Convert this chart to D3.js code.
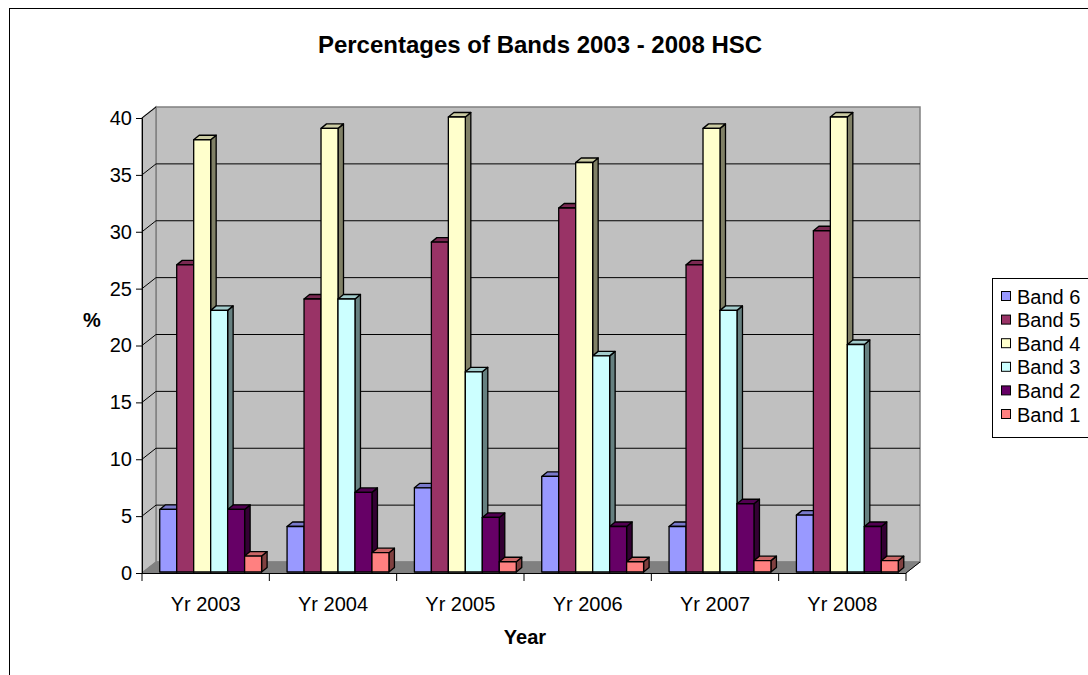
<!DOCTYPE html>
<html>
<head>
<meta charset="utf-8">
<script src="https://cdn.jsdelivr.net/npm/d3@7"></script>
<style>
  html, body { margin: 0; padding: 0; background: #fff; }
  svg { display: block; font-family: "Liberation Sans", Arial, sans-serif; }
</style>
</head>
<body>
<svg id="chart" width="1088" height="675"></svg>
<script>
// HSC band percentages per year
const categories = ["Yr 2003", "Yr 2004", "Yr 2005", "Yr 2006", "Yr 2007", "Yr 2008"];
const seriesNames = ["Band 6", "Band 5", "Band 4", "Band 3", "Band 2", "Band 1"];
const band6 = [5.5, 4, 7.4, 8.4, 4, 5];
const band5 = [27, 24, 29, 32, 27, 30];
const band4 = [38, 39, 40, 36, 39, 40];
const band3 = [23, 24, 17.6, 19, 23, 20];
const band2 = [5.5, 7, 4.8, 4, 6, 4];
const band1 = [1.4, 1.7, 0.9, 0.9, 1, 1];
const yTicks = [0, 5, 10, 15, 20, 25, 30, 35, 40];

const seriesValues = [band6, band5, band4, band3, band2, band1];
const fills = ["#9999FF", "#993366", "#FFFFCC", "#CCFFFF", "#660066", "#FF8080"];

const svg = d3.select("#chart");
const FONT = "Liberation Sans, Arial, sans-serif";

// plot geometry (front plane) and depth of the 3D box
const plotLeft = 142, plotRight = 906, plotBottom = 573, plotTop = 118;
const depthX = 14, depthY = -11;       // wall depth
const barDX = 5.5, barDY = -4.5;       // bar depth
const barOffX = 5, barOffY = -1;       // bar front face offset from front plane

const y = d3.scaleLinear().domain([0, 40]).range([plotBottom, plotTop]);
const x0 = d3.scaleBand().domain(categories).range([plotLeft, plotRight])
  .paddingInner(0.2).paddingOuter(0.1);
const x1 = d3.scaleBand().domain(seriesNames).range([0, x0.bandwidth()]);

const shade = (c, k) => { const r = d3.rgb(c); return d3.rgb(r.r * k, r.g * k, r.b * k).formatHex(); };

// outer chart border
svg.append("rect").attr("x", 9.5).attr("y", 8.5).attr("width", 1100).attr("height", 700)
  .attr("fill", "#fff").attr("stroke", "#000").attr("stroke-width", 1);

// title
svg.append("text").attr("x", 540).attr("y", 53).attr("text-anchor", "middle")
  .attr("font-size", 24).attr("font-weight", "bold").text("Percentages of Bands 2003 - 2008 HSC");

const walls = svg.append("g");
const pts = a => a.map(p => p.join(",")).join(" ");

// back wall
walls.append("polygon")
  .attr("points", pts([[plotLeft + depthX, plotTop + depthY], [plotRight + depthX, plotTop + depthY],
                       [plotRight + depthX, plotBottom + depthY], [plotLeft + depthX, plotBottom + depthY]]))
  .attr("fill", "#C0C0C0").attr("stroke", "#808080").attr("stroke-width", 1.5);
// side wall
walls.append("polygon")
  .attr("points", pts([[plotLeft, plotTop], [plotLeft + depthX, plotTop + depthY],
                       [plotLeft + depthX, plotBottom + depthY], [plotLeft, plotBottom]]))
  .attr("fill", "#C0C0C0").attr("stroke", "#808080").attr("stroke-width", 1.5);
// floor
walls.append("polygon")
  .attr("points", pts([[plotLeft, plotBottom], [plotRight, plotBottom],
                       [plotRight + depthX, plotBottom + depthY], [plotLeft + depthX, plotBottom + depthY]]))
  .attr("fill", "#808080").attr("stroke", "#808080").attr("stroke-width", 1);

// gridlines across side wall and back wall
walls.selectAll("polyline.grid").data(yTicks.filter(v => v > 0 && v < 40)).join("polyline")
  .attr("class", "grid")
  .attr("points", v => pts([[plotLeft, y(v)], [plotLeft + depthX, y(v) + depthY], [plotRight + depthX, y(v) + depthY]]))
  .attr("fill", "none").attr("stroke", "#000").attr("stroke-width", 1);
walls.append("polyline")
  .attr("points", pts([[plotLeft, y(40)], [plotLeft + depthX, y(40) + depthY]]))
  .attr("fill", "none").attr("stroke", "#000").attr("stroke-width", 1);

// bars
const bars = svg.append("g");
categories.forEach((cat, ci) => {
  seriesNames.forEach((s, si) => {
    const v = seriesValues[si][ci];
    const xl = x0(cat) + x1(s) + barOffX;
    const xr = xl + x1.bandwidth();
    const yb = y(0) + barOffY;
    const yt = y(v) + barOffY;
    const c = fills[si];
    const g = bars.append("g").attr("stroke", "#000").attr("stroke-width", 1.3).attr("stroke-linejoin", "round");
    g.append("polygon").attr("points", pts([[xr, yt], [xr + barDX, yt + barDY], [xr + barDX, yb + barDY], [xr, yb]]))
      .attr("fill", shade(c, 0.5));
    g.append("polygon").attr("points", pts([[xl, yt], [xl + barDX, yt + barDY], [xr + barDX, yt + barDY], [xr, yt]]))
      .attr("fill", shade(c, 0.8));
    g.append("rect").attr("x", xl).attr("y", yt).attr("width", xr - xl).attr("height", yb - yt).attr("fill", c);
  });
});

// value axis
const yAxis = svg.append("g").attr("transform", `translate(${plotLeft},0)`)
  .call(d3.axisLeft(y).tickValues(yTicks).tickSize(6).tickPadding(4));
yAxis.select(".domain").attr("stroke", "#000");
yAxis.selectAll("line").attr("stroke", "#000");
yAxis.selectAll("text").attr("font-size", 20).attr("font-family", FONT).attr("fill", "#000");

// category axis
const xAxis = svg.append("g").attr("transform", `translate(0,${plotBottom})`)
  .call(d3.axisBottom(x0).tickSize(0).tickPadding(24));
xAxis.select(".domain").attr("stroke", "#000").attr("d", `M${plotLeft},0.5H${plotRight}`);
xAxis.selectAll("text").attr("font-size", 20).attr("font-family", FONT).attr("fill", "#000");
// boundary ticks between categories
const boundaries = d3.range(categories.length + 1).map(i => plotLeft + i * x0.step());
xAxis.selectAll("line.bound").data(boundaries).join("line").attr("class", "bound")
  .attr("x1", d => d).attr("x2", d => d).attr("y1", 0).attr("y2", 8).attr("stroke", "#000");
// floor edge on the right
svg.append("line").attr("x1", plotRight).attr("y1", plotBottom).attr("x2", plotRight + depthX).attr("y2", plotBottom + depthY)
  .attr("stroke", "#000");

// axis titles
svg.append("text").attr("x", 92).attr("y", 327).attr("text-anchor", "middle")
  .attr("font-size", 20).attr("font-weight", "bold").text("%");
svg.append("text").attr("x", 525).attr("y", 644).attr("text-anchor", "middle")
  .attr("font-size", 20).attr("font-weight", "bold").text("Year");

// legend
const legend = svg.append("g");
legend.append("rect").attr("x", 992.5).attr("y", 278.5).attr("width", 120).attr("height", 159)
  .attr("fill", "#fff").attr("stroke", "#000");
const entries = legend.selectAll("g.entry").data(seriesNames).join("g").attr("class", "entry")
  .attr("transform", (d, i) => `translate(1001,${297 + i * 23.6})`);
entries.append("rect").attr("x", 0.5).attr("y", -5.5).attr("width", 9).attr("height", 9)
  .attr("fill", (d, i) => fills[i]).attr("stroke", "#000");
entries.append("text").attr("x", 16).attr("y", 6.5).attr("font-size", 20).text(d => d);
</script>
</body>
</html>
